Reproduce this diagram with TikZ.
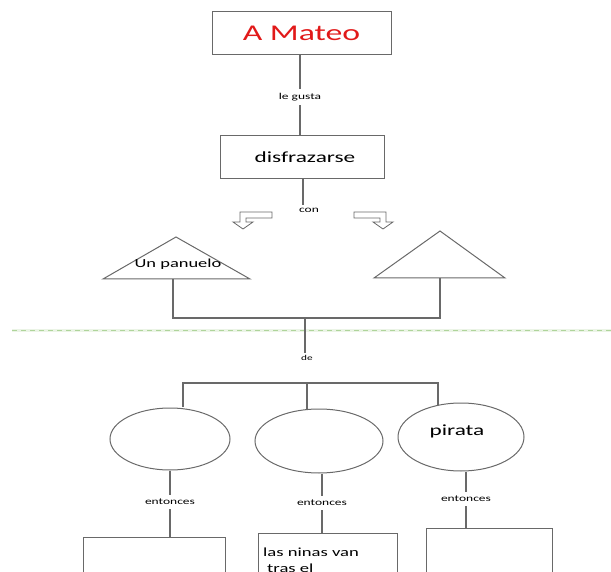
\documentclass[tikz,border=0pt]{standalone}
\usepackage{fontspec}
\setmainfont[FakeStretch=1.5]{Carlito}
\usetikzlibrary{shapes.geometric}
\definecolor{linegray}{RGB}{105,105,105}
\definecolor{titlered}{RGB}{225,25,25}
\definecolor{dashgreen}{RGB}{175,212,155}
\begin{document}
\begin{tikzpicture}[x=1pt,y=-1pt,
  box/.style={draw=linegray,line width=1pt,inner sep=0pt},
  oval/.style={draw=linegray,line width=1pt,ellipse,inner sep=0pt},
  link/.style={draw=linegray,line width=1.2pt},
  tag/.style={font=\fontsize{9}{10}\selectfont,inner sep=4pt},
  hollow/.style={draw=linegray,line width=0.8pt,fill=white}]

% Fix the page
\useasboundingbox (0,0) rectangle (611,572);
\clip (0,0) rectangle (611,572);

% Draw the top boxes
\node[box,minimum width=179pt,minimum height=43pt] (mateo) at (301.5,33.5)
  {\fontsize{22.5}{24}\selectfont\color{titlered}A Mateo};
\node[tag] (legusta) at (300,97) {le gusta};
\node[box,minimum width=164pt,minimum height=43pt] (disfraz) at (302,157.5)
  {\fontsize{15.5}{17}\selectfont\hspace{6pt}disfrazarse};
\node[tag] (con) at (309,210) {con};

\draw[link] (mateo.south -| legusta) -- (legusta);
\draw[link] (legusta) -- (legusta |- disfraz.north);
\draw[link] (disfraz.south -| 303,0) -- (303,205);

% Draw the hollow bent arrows
\draw[hollow] (272,212) -- (240,212) -- (240,222) -- (233,222) -- (243,229)
  -- (253,222) -- (246,222) -- (246,218) -- (272,218) -- cycle;
\draw[hollow] (354,212) -- (386,212) -- (386,222) -- (393,222) -- (383,229)
  -- (373,222) -- (380,222) -- (380,218) -- (354,218) -- cycle;

% Draw the triangles
\draw[linegray,line width=1pt] (103,279) -- (176,237) -- (250,279) -- cycle;
\draw[linegray,line width=1pt] (374,278) -- (440,231) -- (505,278) -- cycle;
\node[inner sep=0pt,font=\fontsize{12.3}{14}\selectfont] (panuelo) at (178,264) {Un panuelo};
\coordinate (tri1) at (173,279);
\coordinate (tri2) at (440,278);
\coordinate (join) at (305,318);

\draw[link] (tri1) -- (tri1 |- join) -- (tri2 |- join) -- (tri2);

% Draw the green divider
\fill[dashgreen!25] (12,329.5) rectangle (611,332.5);
\draw[dashgreen,line width=1pt,dash pattern=on 5pt off 4pt] (12,331) -- (611,331);

\node[tag,font=\fontsize{7.5}{8}\selectfont,inner sep=2pt] (de) at (307,358) {de};
\draw[link] (join) -- (de.north -| join);

% Draw the fork and the ovals
\node[oval,minimum width=120pt,minimum height=62pt] (e1) at (170,439) {};
\node[oval,minimum width=128pt,minimum height=64pt] (e2) at (319,441) {};
\node[oval,minimum width=126pt,minimum height=68pt] (e3) at (461,437) {};
\node[inner sep=0pt,font=\fontsize{15.5}{17}\selectfont] (pirata) at (457,431) {pirata};
\coordinate (fork) at (307,383);

\draw[link] (183,407) -- (183,383) -- (438,383) -- (438,405);
\draw[link] (fork) -- (fork |- e2.north);

% Draw the entonces links
\node[tag] (ent1) at (170,502) {entonces};
\node[tag] (ent2) at (322,503) {entonces};
\node[tag] (ent3) at (466,499) {entonces};

\node[box,minimum width=142pt,minimum height=70pt,anchor=north] (b1) at (154,537) {};
\node[box,minimum width=139pt,minimum height=70pt,anchor=north] (b2) at (327.5,533) {};
\node[box,minimum width=126pt,minimum height=70pt,anchor=north] (b3) at (489,528) {};
\node[anchor=north west,align=left,inner sep=0pt,font=\fontsize{12.4}{16}\selectfont]
  (ninas) at (263,548) {las ninas van\\ \hspace{4pt}tras el};

\draw[link] (e1.south -| ent1) -- (ent1);
\draw[link] (ent1) -- (ent1 |- b1.north);
\draw[link] (e2.south -| ent2) -- (ent2);
\draw[link] (ent2) -- (ent2 |- b2.north);
\draw[link] (e3.south -| ent3) -- (ent3);
\draw[link] (ent3) -- (ent3 |- b3.north);

\end{tikzpicture}
\end{document}
